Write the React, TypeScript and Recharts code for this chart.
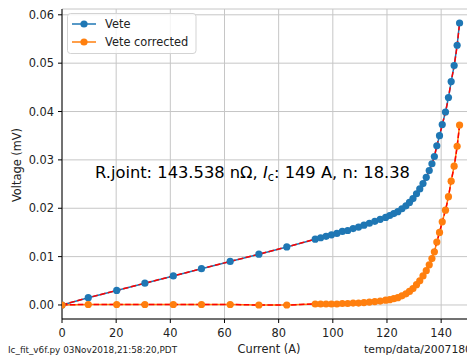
import { CartesianGrid, Line, LineChart, XAxis, YAxis } from 'recharts'

// ---- data ----
const currentA = [
  0, 9.7, 20.2, 30.6, 41.1, 51.5, 62.1, 72.7, 83.0,
  93.5, 95.5, 97.5, 99.5, 101.5, 103.5, 105.5, 107.5, 109.5, 111.5, 113.5, 115.5, 117.5, 119.5,
  121, 122.5, 124, 125.5, 127, 128.3, 129.6, 130.9, 132.1, 133.3, 134.5, 135.6, 136.6, 137.5,
  138.4, 139.4, 140.4, 141.6, 142.7, 143.7, 144.8, 145.9, 146.8,
]

const vete = [
  0, 0.0015, 0.003, 0.0045, 0.006, 0.0075, 0.009, 0.0105, 0.012,
  0.0136, 0.0139, 0.0142, 0.0145, 0.0148, 0.0152, 0.0154, 0.0158, 0.0161, 0.0165, 0.0169, 0.0173, 0.0177, 0.0181,
  0.0185, 0.0189, 0.0193, 0.0199, 0.0205, 0.0212, 0.022, 0.023, 0.024, 0.0251, 0.0264, 0.0278, 0.0292, 0.0307,
  0.0329, 0.035, 0.0373, 0.0399, 0.0429, 0.0462, 0.0495, 0.0537, 0.0583,
]

const veteCorrected = [
  0, 0.0001, 0.0001, 0.0001, 0.0001, 0.0001, 0.0001, 0.0, 0.0,
  0.0002, 0.0002, 0.0002, 0.0002, 0.0002, 0.0003, 0.0003, 0.0004, 0.0004, 0.0005, 0.0006, 0.0007, 0.0008, 0.001,
  0.0011, 0.0013, 0.0015, 0.0019, 0.0023, 0.0028, 0.0034, 0.0042, 0.005, 0.006, 0.0071, 0.0083, 0.0096, 0.011,
  0.013, 0.015, 0.0172, 0.0196, 0.0224, 0.0256, 0.0287, 0.0328, 0.0372,
]

const xTicks = [0, 20, 40, 60, 80, 100, 120, 140]
const yTicks = [0, 0.01, 0.02, 0.03, 0.04, 0.05, 0.06]

const BLUE = '#1f77b4'
const ORANGE = '#ff7f0e'
const RED = '#ff0000'
const FONT = '"DejaVu Sans", sans-serif'
const TICK = { fontSize: 11.4, fill: '#222', fontFamily: FONT }

const X_DOMAIN: [number, number] = [0, 152.5]
const Y_DOMAIN: [number, number] = [-0.0029, 0.0612]

export default function App() {
  const data = currentA.map((c, i) => ({
    current: c,
    vete: vete[i],
    corrected: veteCorrected[i],
  }))

  return (
    <div style={{ position: 'relative', width: 467, height: 347, overflow: 'hidden', fontFamily: FONT }}>
      <LineChart width={467} height={346} data={data} margin={{ top: 1, right: 0, bottom: 0, left: 4 }}>
        <CartesianGrid stroke="#c6c6c6" strokeWidth={1} />
        <XAxis
          dataKey="current"
          type="number"
          domain={X_DOMAIN}
          ticks={xTicks}
          allowDataOverflow
          height={35}
          tick={TICK}
          tickSize={4}
          tickMargin={6}
          stroke="#000"
          axisLine={{ stroke: '#000', strokeWidth: 1 }}
          tickLine={{ stroke: '#000' }}
        />
        <XAxis
          xAxisId="top"
          orientation="top"
          type="number"
          domain={X_DOMAIN}
          height={0}
          tick={false}
          tickLine={false}
          axisLine={{ stroke: '#000', strokeWidth: 1 }}
        />
        <YAxis
          type="number"
          domain={Y_DOMAIN}
          ticks={yTicks}
          allowDataOverflow
          width={50}
          tick={TICK}
          tickSize={4}
          tickMargin={4}
          tickFormatter={(v: number) => v.toFixed(2)}
          axisLine={{ stroke: '#000', strokeWidth: 1 }}
          tickLine={{ stroke: '#000' }}
        />
        <Line
          dataKey="vete"
          type="linear"
          stroke={BLUE}
          strokeWidth={1.5}
          dot={{ r: 3.6, fill: BLUE, stroke: BLUE, strokeWidth: 0 }}
          activeDot={false}
          isAnimationActive={false}
        />
        <Line
          dataKey="corrected"
          type="linear"
          stroke={ORANGE}
          strokeWidth={1.5}
          dot={{ r: 3.6, fill: ORANGE, stroke: ORANGE, strokeWidth: 0 }}
          activeDot={false}
          isAnimationActive={false}
        />
        {/* fitted curves */}
        <Line
          dataKey="vete"
          type="monotone"
          stroke={RED}
          strokeWidth={1.5}
          strokeDasharray="5.5 2.4"
          dot={false}
          activeDot={false}
          isAnimationActive={false}
        />
        <Line
          dataKey="corrected"
          type="monotone"
          stroke={RED}
          strokeWidth={1.5}
          strokeDasharray="5.5 2.4"
          dot={false}
          activeDot={false}
          isAnimationActive={false}
        />
      </LineChart>

      <svg
        width={475}
        height={355}
        style={{ position: 'absolute', left: -8, top: -8, pointerEvents: 'none', fontFamily: FONT }}
      >
        {/* legend */}
        <rect x={67.5} y={13.5} width={128.5} height={40} rx={3} fill="#fff" fillOpacity={0.8} stroke="#d3d3d3" />
        <line x1={72} x2={96} y1={24} y2={24} stroke={BLUE} strokeWidth={1.5} />
        <circle cx={84} cy={24} r={3.6} fill={BLUE} />
        <text x={105} y={28.2} fontSize={11.4} fill="#222">Vete</text>
        <line x1={72} x2={96} y1={42} y2={42} stroke={ORANGE} strokeWidth={1.5} />
        <circle cx={84} cy={42} r={3.6} fill={ORANGE} />
        <text x={105} y={46.2} fontSize={11.4} fill="#222">Vete corrected</text>

        {/* annotation */}
        <text x={95} y={178} fontSize={16.3} fill="#000">
          R.joint: 143.538 nΩ, <tspan fontStyle="italic">I</tspan>
          <tspan fontSize={11.4} dy={3}>c</tspan>
          <tspan dy={-3}>: 149 A, n: 18.38</tspan>
        </text>

        {/* axis labels */}
        <text x={0} y={0} transform="translate(20.5,165) rotate(-90)" textAnchor="middle" fontSize={11.4} fill="#222">
          Voltage (mV)
        </text>
        <text x={269} y={352.5} textAnchor="middle" fontSize={11.4} fill="#222">Current (A)</text>

        {/* footer */}
        <text x={8} y={353} fontSize={8.85} fill="#222">Ic_fit_v6f.py 03Nov2018,21:58:20,PDT</text>
        <text x={472} y={353} textAnchor="end" fontSize={10.8} fill="#222">temp/data/2007180</text>
      </svg>
    </div>
  )
}
